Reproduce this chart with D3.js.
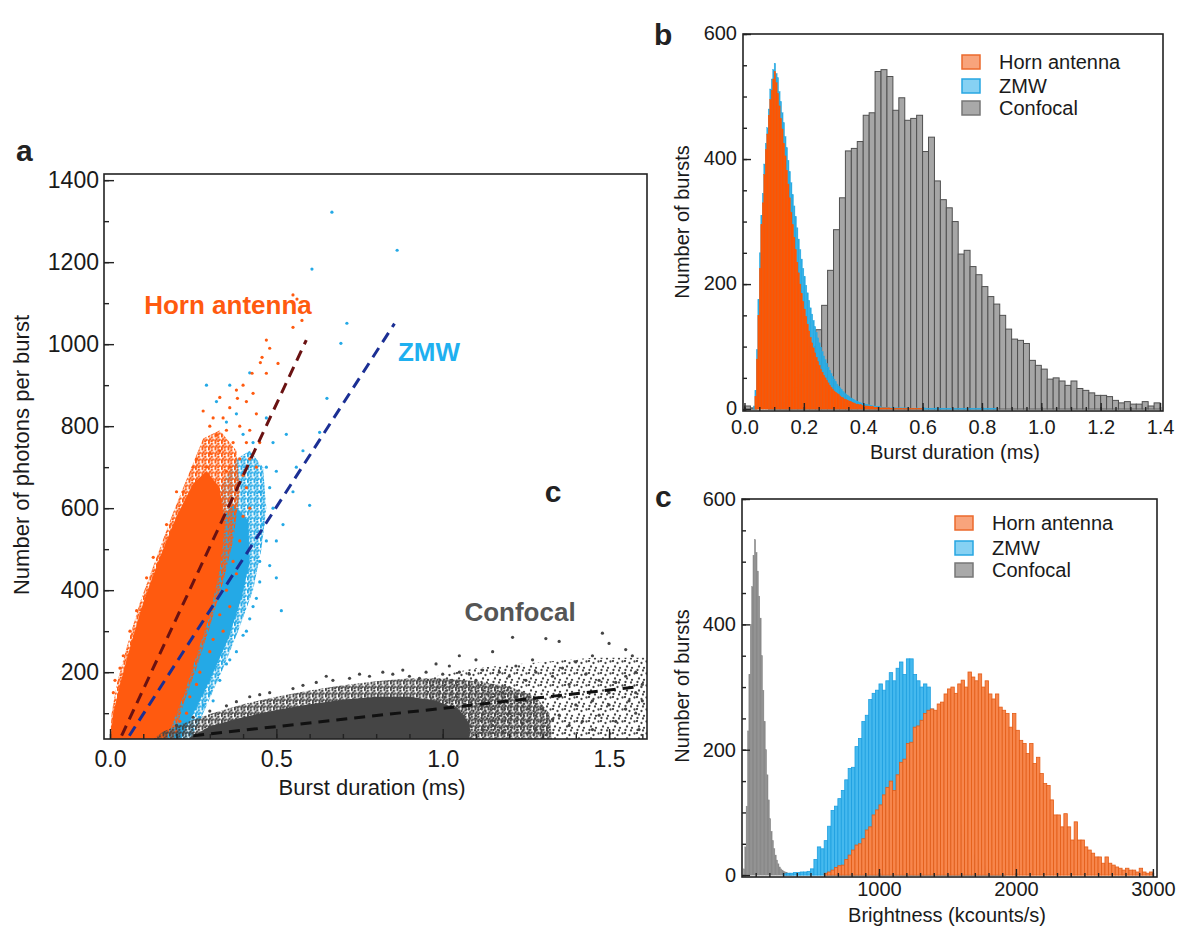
<!DOCTYPE html>
<html><head><meta charset="utf-8">
<script src="https://cdn.jsdelivr.net/npm/d3@7"></script>
<style>
body{margin:0;background:#fff}
svg{display:block}
text{font-family:"Liberation Sans",Arial,Helvetica,sans-serif;fill:#1a1a1a}
</style></head>
<body><svg id="chart" width="1179" height="929"></svg>
<script>
// ---------------- DATA ----------------
// Panel a: scatter clouds (dense core outlines + sparse points), burst duration (ms) vs photons per burst
const hornCloudOuter = [[0.0,30],[0.005,100],[0.02,170],[0.05,260],[0.09,370],[0.14,480],[0.19,590],[0.24,690],[0.28,770],[0.33,790],[0.38,740],[0.39,640],[0.37,520],[0.34,420],[0.30,310],[0.26,210],[0.22,120],[0.19,30]];
const hornCloudInner = [[0.0,30],[0.01,100],[0.03,170],[0.06,260],[0.1,370],[0.15,480],[0.2,580],[0.25,660],[0.29,690],[0.33,650],[0.345,560],[0.33,450],[0.30,340],[0.26,240],[0.22,140],[0.18,60],[0.165,30]];
const hornPoints = [[0.55,1120],[0.562,1110],[0.577,1058],[0.55,1041],[0.47,1010],[0.457,968],[0.452,955],[0.505,953],[0.427,929],[0.47,929],[0.38,888],[0.383,868],[0.30,734],[0.32,778],[0.34,820],[0.36,845],[0.40,900],[0.41,860],[0.43,880],[0.44,830],[0.28,837],[0.35,790],[0.37,760],[0.39,800],[0.42,790],[0.45,760],[0.33,740],[0.29,700],[0.26,720],[0.25,700],[0.36,700],[0.39,720],[0.40,680],[0.42,720],[0.41,650],[0.40,580],[0.39,520],[0.37,470],[0.35,400],[0.22,640],[0.2,640],[0.17,560],[0.13,480],[0.11,430],[0.08,350],[0.31,280],[0.27,200],[0.24,140],[0.21,80],[0.2,55],[0.06,300],[0.04,240],[0.03,210],[0.01,150],[0.015,180],[0.31,820],[0.33,870],[0.48,990],[0.35,690],[0.41,760],[0.33,340],[0.36,360],[0.38,440],[0.3,250],[0.23,100],[0.26,170],[0.34,300],[0.42,600],[0.44,700],[0.3,800]];
const zmwCloudOuter = [[0.04,30],[0.1,200],[0.16,330],[0.22,450],[0.28,560],[0.33,650],[0.38,720],[0.42,740],[0.46,700],[0.47,600],[0.455,500],[0.43,400],[0.385,300],[0.335,200],[0.28,100],[0.24,30]];
const zmwCloudInner = [[0.06,30],[0.12,200],[0.2,360],[0.27,480],[0.33,570],[0.37,610],[0.415,570],[0.42,470],[0.395,380],[0.355,280],[0.30,180],[0.245,90],[0.21,30]];
const zmwPoints = [[0.667,1322],[0.863,1229],[0.607,1183],[0.712,1051],[0.694,1002],[0.652,868],[0.63,785],[0.60,607],[0.515,350],[0.48,460],[0.5,520],[0.52,560],[0.55,640],[0.56,700],[0.58,740],[0.53,780],[0.49,760],[0.47,700],[0.48,650],[0.49,600],[0.47,520],[0.45,470],[0.45,420],[0.43,360],[0.42,330],[0.40,290],[0.38,250],[0.35,220],[0.33,180],[0.30,150],[0.28,120],[0.27,90],[0.25,60],[0.24,50],[0.38,830],[0.35,810],[0.32,860],[0.36,900],[0.40,780],[0.47,820],[0.5,690],[0.42,930],[0.29,900],[0.44,380],[0.46,560],[0.5,430],[0.41,300],[0.36,230],[0.31,130],[0.26,40],[0.45,640],[0.43,760],[0.39,660]];
const confCloudSparse = [[0.95,30],[0.95,185],[1.1,210],[1.3,225],[1.45,235],[1.62,235],[1.62,30]];
const confCloudOuter = [[0.12,30],[0.16,55],[0.22,75],[0.3,98],[0.4,122],[0.5,140],[0.6,155],[0.7,168],[0.8,178],[0.9,185],[1.0,185],[1.1,178],[1.2,165],[1.28,140],[1.32,100],[1.33,30]];
const confCloudInner = [[0.22,30],[0.3,68],[0.4,90],[0.5,108],[0.6,122],[0.7,133],[0.8,140],[0.9,140],[0.98,130],[1.05,108],[1.08,75],[1.08,30]];
const confPoints = [[1.21,285],[1.31,282],[1.35,275],[1.48,295],[1.50,270],[1.55,255],[1.57,240],[1.45,240],[1.40,225],[1.36,210],[1.27,230],[1.22,215],[1.15,250],[1.10,230],[1.05,240],[0.98,220],[0.95,200],[0.88,205],[0.85,195],[0.78,190],[0.72,185],[0.62,175],[0.55,160],[0.48,150],[0.42,140],[0.35,118],[0.3,105],[0.25,90],[1.58,200],[1.55,190],[1.52,175],[1.47,180],[1.43,195],[1.38,170],[1.33,190],[1.28,200],[1.25,180],[1.2,190],[1.17,200],[1.12,205],[1.5,150],[1.58,150],[1.45,130],[1.40,120],[1.35,140],[1.30,110],[1.25,130],[1.55,110],[1.58,100],[1.52,80],[1.47,95],[1.42,80],[1.38,70],[1.33,85],[1.28,60],[1.24,75],[1.45,60],[1.50,120],[1.56,130],[1.35,95],[1.2,100],[1.22,140],[1.18,150],[1.1,180],[1.05,200],[1.0,195],[0.93,185],[0.9,190],[1.12,60],[1.15,70],[1.18,55],[1.6,170],[1.6,130],[1.59,60],[0.67,180],[0.58,168],[0.82,200],[0.75,195],[0.45,145],[0.38,128],[0.2,70],[0.65,190],[1.02,215],[1.08,195]];
// linear fits (ms, photons)
const hornFit = [[0.035,45],[0.59,1010]];
const zmwFit = [[0.058,45],[0.855,1050]];
const confFit = [[0.25,45],[1.595,165]];
const aXTicks = [0,0.5,1.0,1.5];
const aYTicks = [200,400,600,800,1000,1200,1400];

// Panel b: burst duration histograms
const bHornStart = 0.035, bHornWidth = 0.005;
const bHornCounts = [20,80,150,225,295,330,375,415,440,470,495,510,528,540,522,505,485,465,448,425,405,382,360,338,315,295,275,255,235,218,200,185,172,160,148,136,125,115,106,98,90,83,76,70,64,59,54,50,46,42,38,35,32,29,27,25,23,21,19,18,16,15,14,13,12,11,10,9,8,8,7,7,6,6,5,5,5,4,4,4,3,3,3,3,2,2,2,2,2,2,2,1,1,1,1,1,1,1,1,1,1,1,1,1,1,1,1,1,1,1,1,1,1];
const bZmwStart = 0.03, bZmwWidth = 0.005;
const bZmwCounts = [5,30,95,175,250,310,345,392,425,450,480,512,528,543,553,537,530,508,492,474,458,436,418,398,380,362,343,325,308,290,272,255,240,225,212,198,186,174,162,152,142,132,123,114,106,99,92,85,79,73,67,62,57,52,48,44,40,37,34,31,28,26,24,22,20,18,17,15,14,13,12,11,10,9,9,8,7,7,6,6,5,5,5,4,4,4,3,3,3,3,3,2,2,2,2,2,2,2,2,2,2,2,2,2,2,1,1,1,1,1,2,1,1,1,1,2,1,1,1,1,1,1,1,2,1,1,1,1,1,1,1,1,1,1,1,1,1,1,1,1,1,1,1,1,1,1,1,1,1,1,1,1,1,1,1,1,1,1,1,1,1,1,1,1];
const bConfStart = 0.0, bConfWidth = 0.02;
const bConfCounts = [5,2,0,0,2,5,10,20,35,55,75,100,127,166,222,287,338,413,417,428,470,474,540,543,532,478,498,462,465,470,412,435,365,335,322,300,248,254,228,215,196,180,168,150,128,112,110,105,78,70,64,48,50,45,38,45,33,30,26,22,22,20,14,10,12,8,8,12,5,10];
const bXTicks = [0,0.2,0.4,0.6,0.8,1.0,1.2,1.4];
const bYTicks = [0,200,400,600];

// Panel c: brightness histograms (kcounts/s)
const cConfStart = 10, cConfWidth = 10;
const cConfCounts = [10,45,110,230,320,400,460,510,535,515,485,445,410,350,295,245,200,160,120,90,70,55,42,32,24,18,13,10,8,6,5,4,3,2,2,1];
const cZmwStart = 300, cZmwWidth = 25;
const cZmwCounts = [2,3,3,4,4,5,5,6,10,25,45,42,55,78,103,110,122,135,152,170,172,205,218,245,255,280,290,295,305,295,310,323,310,330,340,320,345,345,320,310,300,305,300,265,245,230,200,170,150,120,100,80,65,50,40,32,25,18,14,10,7,5,3,2,1];
const cHornStart = 600, cHornWidth = 25;
const cHornCounts = [3,5,8,12,15,16,25,32,40,48,50,58,72,77,96,104,112,128,140,150,135,160,180,185,210,212,236,238,247,258,263,265,263,273,276,289,297,300,290,305,311,300,324,316,310,321,300,310,289,281,289,268,263,258,236,258,231,215,210,194,210,178,188,162,146,143,120,96,96,77,98,77,56,85,56,56,45,40,35,29,29,19,29,19,16,13,11,8,11,8,8,5,11,5,3,5];
const cXTicks = [1000,2000,3000];
const cYTicks = [0,200,400,600];

const seriesNames = ["Horn antenna","ZMW","Confocal"];

// ---------------- STYLE ----------------
const FONT = '"Liberation Sans",Arial,Helvetica,sans-serif';
const col = {
  hornScatter:"#ff5a0f", zmwScatter:"#24a9e6", confScatter:"#454545",
  hornFit:"#6a1212", zmwFit:"#1b2f94", confFit:"#111111",
  bHorn:"#ff5500", bZmw:"#29abe3", bConfFill:"#a6a6a6", bConfStroke:"#505050",
  cHornFill:"#f7864c", cHornStroke:"#e35c16", cZmwFill:"#45b9ee", cZmwStroke:"#1d9fe0", cConf:"#8a8a8a"
};
const legendStyles = [
  {fill:"#f8a47c", stroke:"#ec6a2c"},
  {fill:"#86d1f3", stroke:"#27a6e2"},
  {fill:"#a9a9a9", stroke:"#777777"}
];

const svg = d3.select("#chart");
const defs = svg.append("defs");

function dotPattern(id, color, size, dots, r){
  const p = defs.append("pattern").attr("id",id).attr("width",size).attr("height",size)
    .attr("patternUnits","userSpaceOnUse");
  dots.forEach(d=>p.append("circle").attr("cx",d[0]).attr("cy",d[1]).attr("r",r).attr("fill",color));
}
const denseDots = [[0.8,0.8],[3.9,1.7],[2.2,3.6],[5.1,4.4],[0.9,5.3],[3.6,5.8]];
const sparseDots = [[1,1],[5.5,3],[3,6.5],[8,7.8],[10.5,1.5],[7,10.5],[1.5,10]];
dotPattern("patHorn", col.hornScatter, 6.5, denseDots, 1.25);
dotPattern("patZmw", col.zmwScatter, 6.5, denseDots, 1.25);
dotPattern("patConf", col.confScatter, 6.5, denseDots, 1.25);
dotPattern("patConfSparse", col.confScatter, 12, sparseDots, 1.15);

function clip(id, x, y, w, h){
  defs.append("clipPath").attr("id",id).append("rect").attr("x",x).attr("y",y).attr("width",w).attr("height",h);
}

function styleAxis(g, size){
  g.attr("font-family", FONT).attr("font-size", size);
  g.select(".domain").remove();
  g.selectAll(".tick line").attr("stroke","#222").attr("stroke-width",1.4);
  g.selectAll(".tick text").attr("fill","#1a1a1a");
}

function frame(x0,y0,x1,y1){
  svg.append("rect").attr("x",x0).attr("y",y0).attr("width",x1-x0).attr("height",y1-y0)
    .attr("fill","none").attr("stroke","#222").attr("stroke-width",1.6);
}

function rangeStep(a,b,s){ const out=[]; for(let v=a; v<=b+1e-9; v+=s) out.push(+v.toFixed(6)); return out; }

// ---------------- PANEL A ----------------
const aL=104, aR=647, aT=174, aB=739;
const xA = d3.scaleLinear().domain([-0.018,1.614]).range([aL,aR]);
const yA = d3.scaleLinear().domain([37,1415]).range([aB,aT]);
clip("clipA", aL, aT, aR-aL, aB-aT);
const gA = svg.append("g").attr("clip-path","url(#clipA)");
const cloudLine = d3.line().x(d=>xA(d[0])).y(d=>yA(d[1])).curve(d3.curveLinearClosed);

function cloud(outer, inner, pts, pat, color){
  gA.append("path").attr("d", cloudLine(outer)).attr("fill", `url(#${pat})`);
  gA.append("path").attr("d", cloudLine(inner)).attr("fill", color);
  gA.append("g").selectAll("circle").data(pts).join("circle")
    .attr("cx", d=>xA(d[0])).attr("cy", d=>yA(d[1])).attr("r",1.6).attr("fill",color);
}
cloud(zmwCloudOuter, zmwCloudInner, zmwPoints, "patZmw", col.zmwScatter);
cloud(hornCloudOuter, hornCloudInner, hornPoints, "patHorn", col.hornScatter);
gA.append("path").attr("d", cloudLine(confCloudSparse)).attr("fill","url(#patConfSparse)");
cloud(confCloudOuter, confCloudInner, confPoints, "patConf", col.confScatter);

const fitLine = d3.line().x(d=>xA(d[0])).y(d=>yA(d[1]));
[[hornFit,col.hornFit],[zmwFit,col.zmwFit],[confFit,col.confFit]].forEach(([d,c])=>{
  gA.append("path").attr("d", fitLine(d)).attr("fill","none").attr("stroke",c)
    .attr("stroke-width",3).attr("stroke-dasharray","11,7");
});

// axes a
styleAxis(svg.append("g").attr("transform",`translate(0,${aB})`)
  .call(d3.axisBottom(xA).tickValues(rangeStep(0,1.6,0.1)).tickSize(-5).tickFormat(()=>"")), 23);
styleAxis(svg.append("g").attr("transform",`translate(0,${aB})`)
  .call(d3.axisBottom(xA).tickValues(aXTicks).tickSize(-10).tickPadding(12).tickFormat(d3.format(".1f"))), 23);
styleAxis(svg.append("g").attr("transform",`translate(${aL},0)`)
  .call(d3.axisLeft(yA).tickValues(rangeStep(100,1400,100)).tickSize(-5).tickFormat(()=>"")), 23);
styleAxis(svg.append("g").attr("transform",`translate(${aL},0)`)
  .call(d3.axisLeft(yA).tickValues(aYTicks).tickSize(-10).tickPadding(5).tickFormat(d3.format("d"))), 23);
frame(aL,aT,aR,aB);

svg.append("text").attr("x",372).attr("y",795).attr("text-anchor","middle").attr("font-size",22).text("Burst duration (ms)");
svg.append("text").attr("transform","translate(29,455) rotate(-90)").attr("text-anchor","middle").attr("font-size",22).text("Number of photons per burst");
svg.append("text").attr("x",228).attr("y",314).attr("text-anchor","middle").attr("font-size",26).attr("font-weight","bold").style("fill","#ff5a0f").text("Horn antenna");
svg.append("text").attr("x",429).attr("y",361).attr("text-anchor","middle").attr("font-size",26).attr("font-weight","bold").style("fill","#1fb0f0").text("ZMW");
svg.append("text").attr("x",520).attr("y",621).attr("text-anchor","middle").attr("font-size",26).attr("font-weight","bold").style("fill","#555555").text("Confocal");
svg.append("text").attr("x",553).attr("y",502).attr("text-anchor","middle").attr("font-size",30).attr("font-weight","bold").style("fill","#222").text("c");
svg.append("text").attr("x",16).attr("y",161).attr("font-size",30).attr("font-weight","bold").style("fill","#222").text("a");

// ---------------- HIST HELPER ----------------
function hist(g, x, y, start, width, counts, fill, stroke, sw){
  const data = counts.map((c,i)=>({x0:start+i*width, x1:start+(i+1)*width, c}));
  g.append("g").selectAll("rect").data(data).join("rect")
    .attr("x", d=>x(d.x0)).attr("width", d=>Math.max(0.3, x(d.x1)-x(d.x0)))
    .attr("y", d=>y(d.c)).attr("height", d=>Math.max(0, y(0)-y(d.c)))
    .attr("fill", fill).attr("stroke", stroke).attr("stroke-width", sw);
}
function legend(x, ys, textX, size){
  seriesNames.forEach((n,i)=>{
    svg.append("rect").attr("x",x).attr("y",ys[i]-7).attr("width",18).attr("height",14)
      .attr("fill",legendStyles[i].fill).attr("stroke",legendStyles[i].stroke).attr("stroke-width",1.5);
    svg.append("text").attr("x",textX).attr("y",ys[i]+7).attr("font-size",size).text(n);
  });
}

// ---------------- PANEL B ----------------
const bL=743, bR=1163, bT=34, bB=411;
const xB = d3.scaleLinear().domain([-0.005,1.41]).range([bL,bR]);
const yB = d3.scaleLinear().domain([-3,600]).range([bB,bT]);
clip("clipB", bL, bT, bR-bL, bB-bT);
const gB = svg.append("g").attr("clip-path","url(#clipB)");
hist(gB, xB, yB, bConfStart, bConfWidth, bConfCounts, col.bConfFill, col.bConfStroke, 1);
hist(gB, xB, yB, bZmwStart, bZmwWidth, bZmwCounts, col.bZmw, col.bZmw, 0.4);
hist(gB, xB, yB, bHornStart, bHornWidth, bHornCounts, col.bHorn, col.bHorn, 0.4);

styleAxis(svg.append("g").attr("transform",`translate(0,${bB})`)
  .call(d3.axisBottom(xB).tickValues(rangeStep(0,1.4,0.05)).tickSize(-4).tickFormat(()=>"")), 20);
styleAxis(svg.append("g").attr("transform",`translate(0,${bB})`)
  .call(d3.axisBottom(xB).tickValues(bXTicks).tickSize(-8).tickPadding(9).tickFormat(d3.format(".1f"))), 20);
styleAxis(svg.append("g").attr("transform",`translate(${bL},0)`)
  .call(d3.axisLeft(yB).tickValues(rangeStep(0,600,50)).tickSize(-4).tickFormat(()=>"")), 20);
const bYAx = svg.append("g").attr("transform",`translate(${bL},0)`)
  .call(d3.axisLeft(yB).tickValues(bYTicks).tickSize(-8).tickPadding(6).tickFormat(d3.format("d")));
styleAxis(bYAx, 20);
bYAx.selectAll(".tick text").attr("dy","0.25em");
frame(bL,bT,bR,bB);
legend(962, [62,86,108], 999, 20);
svg.append("text").attr("x",955).attr("y",459).attr("text-anchor","middle").attr("font-size",20).text("Burst duration (ms)");
svg.append("text").attr("transform","translate(689,222) rotate(-90)").attr("text-anchor","middle").attr("font-size",20).text("Number of bursts");
svg.append("text").attr("x",654).attr("y",45).attr("font-size",30).attr("font-weight","bold").style("fill","#222").text("b");

// ---------------- PANEL C ----------------
const cL=742, cR=1157, cT=499, cB=877;
const xC = d3.scaleLinear().domain([0,3030]).range([cL,cR]);
const yC = d3.scaleLinear().domain([-3,600]).range([cB,cT]);
clip("clipC", cL, cT, cR-cL, cB-cT);
const gC = svg.append("g").attr("clip-path","url(#clipC)");
hist(gC, xC, yC, cConfStart, cConfWidth, cConfCounts, col.cConf, col.cConf, 0.4);
hist(gC, xC, yC, cZmwStart, cZmwWidth, cZmwCounts, col.cZmwFill, col.cZmwStroke, 0.8);
hist(gC, xC, yC, cHornStart, cHornWidth, cHornCounts, col.cHornFill, col.cHornStroke, 0.8);

styleAxis(svg.append("g").attr("transform",`translate(0,${cB})`)
  .call(d3.axisBottom(xC).tickValues(rangeStep(100,3000,100)).tickSize(-4).tickFormat(()=>"")), 20);
styleAxis(svg.append("g").attr("transform",`translate(0,${cB})`)
  .call(d3.axisBottom(xC).tickValues(cXTicks).tickSize(-8).tickPadding(5).tickFormat(d3.format("d"))), 20);
styleAxis(svg.append("g").attr("transform",`translate(${cL},0)`)
  .call(d3.axisLeft(yC).tickValues(rangeStep(0,600,50)).tickSize(-4).tickFormat(()=>"")), 20);
styleAxis(svg.append("g").attr("transform",`translate(${cL},0)`)
  .call(d3.axisLeft(yC).tickValues(cYTicks).tickSize(-8).tickPadding(6).tickFormat(d3.format("d"))), 20);
frame(cL,cT,cR,cB);
legend(955, [523,548,570], 992, 20);
svg.append("text").attr("x",947).attr("y",922).attr("text-anchor","middle").attr("font-size",20).text("Brightness (kcounts/s)");
svg.append("text").attr("transform","translate(689,686) rotate(-90)").attr("text-anchor","middle").attr("font-size",20).text("Number of bursts");
svg.append("text").attr("x",655).attr("y",507).attr("font-size",30).attr("font-weight","bold").style("fill","#222").text("c");
</script></body></html>
